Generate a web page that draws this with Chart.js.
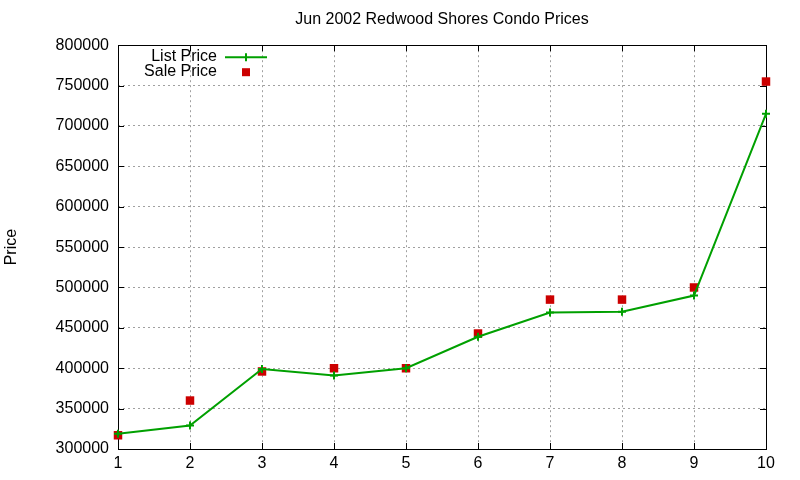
<!DOCTYPE html>
<html>
<head>
<meta charset="utf-8">
<script src="https://cdn.jsdelivr.net/npm/chart.js@4"></script>
<style>
  html, body { margin: 0; padding: 0; background: #fff; }
  #wrap { width: 800px; height: 480px; }
</style>
</head>
<body>
<div id="wrap"><canvas id="priceChart"></canvas></div>
<script>
// Données
const units = [1, 2, 3, 4, 5, 6, 7, 8, 9, 10];
const listPrices = [319000, 329000, 399000, 391000, 400000, 439000, 469000, 470000, 490000, 715000];
const salePrices = [317000, 360000, 396000, 400000, 400000, 443000, 485000, 485000, 500000, 755000];
const yTicks = [300000, 350000, 400000, 450000, 500000, 550000, 600000, 650000, 700000, 750000, 800000];

const FONT = '"Liberation Sans", Arial, sans-serif';
const GREEN = 'rgb(0, 160, 0)';
const RED = 'rgb(204, 0, 0)';

// Cadre + graduations intérieures (comme gnuplot)
const framePlugin = {
    id: 'frame',
    beforeDatasetsDraw(chart) {
        const { ctx, chartArea: a, scales } = chart;
        const len = 6;
        ctx.save();
        ctx.strokeStyle = '#000';
        ctx.lineWidth = 1;
        ctx.beginPath();
        units.forEach(v => {
            const px = Math.round(scales.x.getPixelForValue(v)) + 0.5;
            ctx.moveTo(px, a.bottom); ctx.lineTo(px, a.bottom - len);
            ctx.moveTo(px, a.top); ctx.lineTo(px, a.top + len);
        });
        yTicks.forEach(v => {
            const py = Math.round(scales.y.getPixelForValue(v)) + 0.5;
            ctx.moveTo(a.left, py); ctx.lineTo(a.left + len, py);
            ctx.moveTo(a.right, py); ctx.lineTo(a.right - len, py);
        });
        ctx.stroke();
        ctx.strokeRect(Math.round(a.left) + 0.5, Math.round(a.top) + 0.5,
            Math.round(a.right - a.left), Math.round(a.bottom - a.top));
        ctx.restore();
    }
};

// Légende à l'intérieur, en haut à gauche
const legendPlugin = {
    id: 'innerLegend',
    afterDraw(chart) {
        const { ctx, chartArea: a } = chart;
        const textRight = a.left + 99;
        const sampleX = a.left + 128;
        ctx.save();
        ctx.font = '16px ' + FONT;
        ctx.fillStyle = '#000';
        ctx.textAlign = 'right';
        ctx.textBaseline = 'middle';
        ctx.fillText('List Price', textRight, a.top + 11);
        ctx.fillText('Sale Price', textRight, a.top + 26);
        // trait + croix
        ctx.strokeStyle = GREEN;
        ctx.lineWidth = 2;
        ctx.beginPath();
        ctx.moveTo(sampleX - 21, a.top + 12); ctx.lineTo(sampleX + 21, a.top + 12);
        ctx.moveTo(sampleX, a.top + 8); ctx.lineTo(sampleX, a.top + 16);
        ctx.stroke();
        // carré rouge
        ctx.fillStyle = RED;
        ctx.fillRect(sampleX - 4, a.top + 23, 8, 8);
        ctx.restore();
    }
};

const gridStyle = {
    color: 'rgb(160, 160, 160)',
    lineWidth: 1,
    drawTicks: false
};

new Chart(document.getElementById('priceChart'), {
    type: 'line',
    data: {
        datasets: [
            {
                label: 'List Price',
                data: units.map((u, i) => ({ x: u, y: listPrices[i] })),
                borderColor: GREEN,
                backgroundColor: GREEN,
                borderWidth: 2,
                pointStyle: 'cross',
                pointRadius: 4,
                pointBorderWidth: 2,
                tension: 0,
                clip: false
            },
            {
                label: 'Sale Price',
                data: units.map((u, i) => ({ x: u, y: salePrices[i] })),
                showLine: false,
                borderColor: RED,
                backgroundColor: RED,
                pointStyle: 'rect',
                pointRadius: 6,
                pointBorderWidth: 0,
                clip: false
            }
        ]
    },
    options: {
        responsive: true,
        maintainAspectRatio: false,
        animation: false,
        layout: { padding: { top: 0, right: 34, left: 0, bottom: 0 } },
        plugins: {
            legend: { display: false },
            tooltip: { enabled: false },
            title: {
                display: true,
                text: 'Jun 2002 Redwood Shores Condo Prices',
                fullSize: false,
                color: '#000',
                font: { family: FONT, size: 16, weight: 'normal' },
                padding: { top: 10, bottom: 16 }
            }
        },
        scales: {
            x: {
                type: 'linear',
                min: 1,
                max: 10,
                border: { display: false, dash: [2, 3] },
                grid: gridStyle,
                ticks: {
                    stepSize: 1,
                    padding: 5,
                    color: '#000',
                    font: { family: FONT, size: 16 }
                },
                afterFit(scale) { scale.height = 31; }
            },
            y: {
                min: 300000,
                max: 800000,
                border: { display: false, dash: [2, 3] },
                grid: gridStyle,
                ticks: {
                    stepSize: 50000,
                    padding: 9,
                    color: '#000',
                    font: { family: FONT, size: 16 },
                    callback: v => String(v)
                },
                title: {
                    display: true,
                    text: 'Price',
                    color: '#000',
                    font: { family: FONT, size: 16 },
                    padding: { top: 2, bottom: 0 }
                },
                afterFit(scale) { scale.width = 118; }
            }
        }
    },
    plugins: [framePlugin, legendPlugin]
});
</script>
</body>
</html>
